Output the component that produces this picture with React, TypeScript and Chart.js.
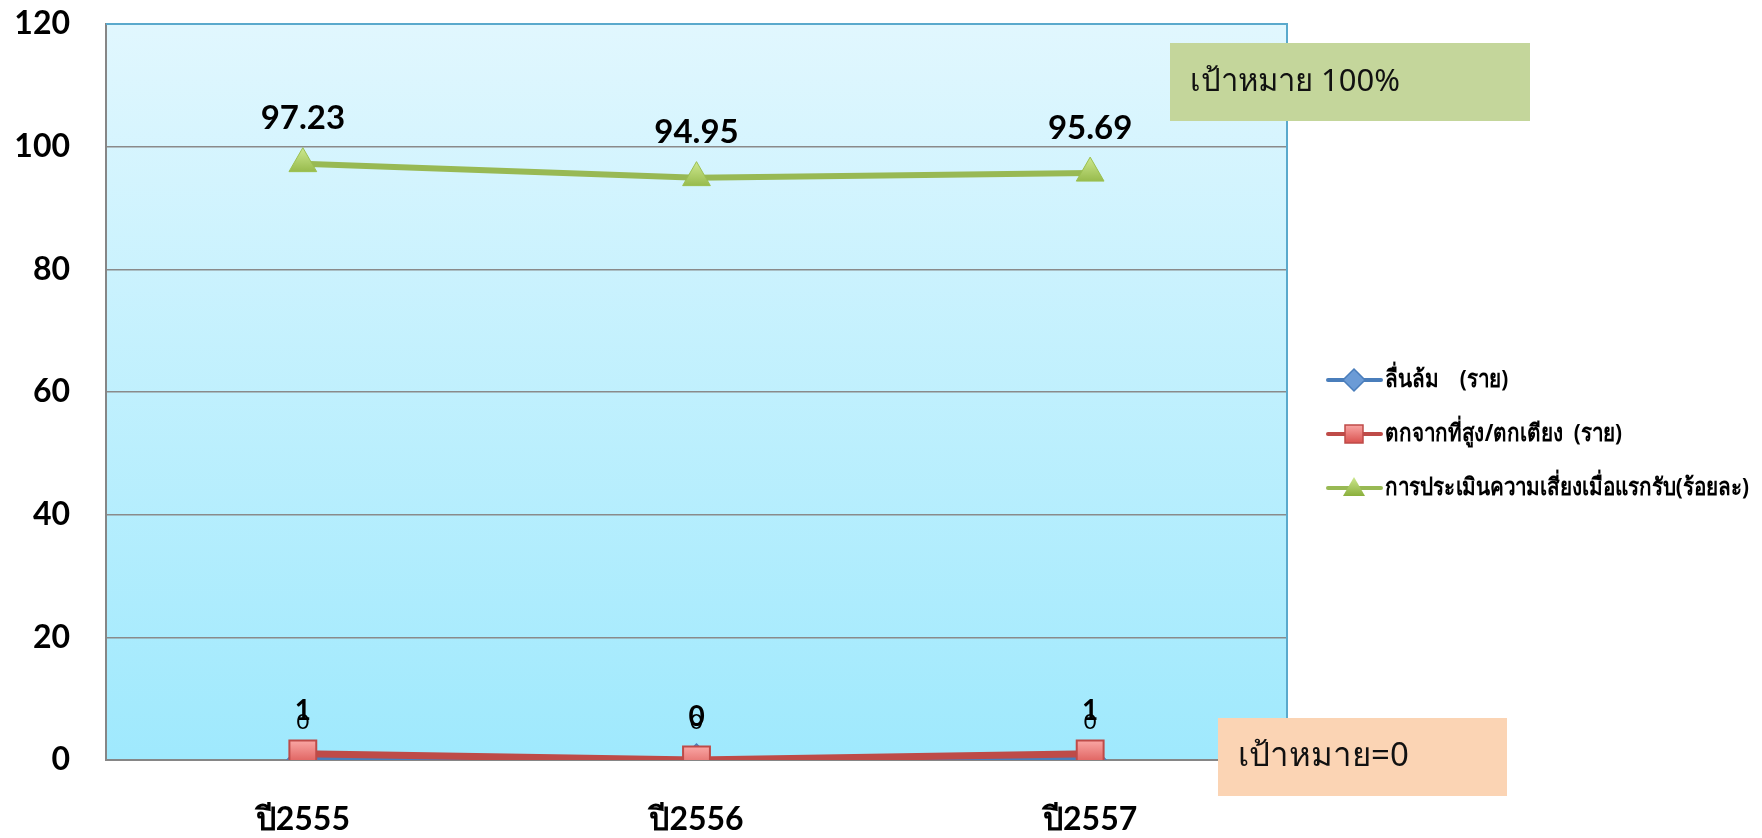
import React, { useEffect, useRef } from 'react';
import { Chart, registerables } from 'chart.js';

Chart.register(...registerables);

// ---------- data ----------
const categories = ['ปี2555', 'ปี2556', 'ปี2557'];
const seriesNames = [
  'ลื่นล้ม    (ราย)',
  'ตกจากที่สูง/ตกเตียง  (ราย)',
  'การประเมินความเสี่ยงเมื่อแรกรับ(ร้อยละ)',
];
const slipFall = [0, 0, 0];
const fallFromHeight = [1, 0, 1];
const riskAssessment = [97.23, 94.95, 95.69];
const yMin = 0;
const yMax = 120;
const yStep = 20;
const targetGreen = 'เป้าหมาย 100%';
const targetZero = 'เป้าหมาย=0';

// ---------- styles ----------
const BLUE = '#4a7ebb';
const RED = '#be4b48';
const GREEN = '#98b954';
const LATIN = 'Lato, "Noto Sans", sans-serif';
const THAI = '"Noto Sans", sans-serif';

const labelStyles = [
  { font: `normal 22px ${LATIN}`, offset: 38 },
  { font: `bold 28px ${LATIN}`, offset: 43 },
  { font: `bold 33px ${LATIN}`, offset: 45 },
];

const bgPlugin = {
  id: 'plotBg',
  beforeDraw(chart: any) {
    const { ctx, chartArea: a } = chart;
    const g = ctx.createLinearGradient(0, a.top, 0, a.bottom);
    g.addColorStop(0, '#e1f7fe');
    g.addColorStop(1, '#9fe9fd');
    ctx.save();
    ctx.fillStyle = g;
    ctx.fillRect(a.left, a.top, a.right - a.left, a.bottom - a.top);
    ctx.restore();
  },
  afterDraw(chart: any) {
    const { ctx, chartArea: a } = chart;
    ctx.save();
    ctx.strokeStyle = '#5aa9cc';
    ctx.lineWidth = 2;
    ctx.beginPath();
    ctx.moveTo(a.left, a.top);
    ctx.lineTo(a.right, a.top);
    ctx.lineTo(a.right, a.bottom);
    ctx.stroke();
    ctx.restore();
  },
};

function drawMarker(ctx: CanvasRenderingContext2D, kind: number, x: number, y: number) {
  ctx.save();
  if (kind === 0) {
    ctx.fillStyle = '#6b9bd6';
    ctx.strokeStyle = BLUE;
    ctx.lineWidth = 1.5;
    ctx.beginPath();
    ctx.moveTo(x, y - 11);
    ctx.lineTo(x + 11, y);
    ctx.lineTo(x, y + 11);
    ctx.lineTo(x - 11, y);
    ctx.closePath();
    ctx.fill();
    ctx.stroke();
  } else if (kind === 1) {
    const g = ctx.createLinearGradient(0, y - 9, 0, y + 9);
    g.addColorStop(0, '#f9a5a3');
    g.addColorStop(1, '#d9524f');
    ctx.fillStyle = g;
    ctx.strokeStyle = RED;
    ctx.lineWidth = 1.5;
    ctx.fillRect(x - 9, y - 9, 18, 18);
    ctx.strokeRect(x - 9, y - 9, 18, 18);
  } else {
    const g = ctx.createLinearGradient(0, y - 10, 0, y + 8);
    g.addColorStop(0, '#c9e58a');
    g.addColorStop(1, '#8aaf3c');
    ctx.fillStyle = g;
    ctx.beginPath();
    ctx.moveTo(x, y - 11);
    ctx.lineTo(x + 11, y + 8);
    ctx.lineTo(x - 11, y + 8);
    ctx.closePath();
    ctx.fill();
  }
  ctx.restore();
}

const legendPlugin = {
  id: 'customLegend',
  afterDraw(chart: any) {
    const { ctx } = chart;
    const ys = [380, 434, 488];
    const colors = [BLUE, RED, GREEN];
    const textX = 1385;
    const maxW = 364;
    const font = `bold 24px ${THAI}`;
    ctx.save();
    ctx.font = font;
    const widest = Math.max(...chart.data.datasets.map((d: any) => ctx.measureText(d.label).width));
    const sx = Math.min(1, maxW / widest);
    ctx.restore();
    chart.data.datasets.forEach((ds: any, i: number) => {
      const y = ys[i];
      ctx.save();
      ctx.strokeStyle = colors[i];
      ctx.lineWidth = 4;
      ctx.lineCap = 'round';
      ctx.beginPath();
      ctx.moveTo(1328, y);
      ctx.lineTo(1381, y);
      ctx.stroke();
      drawMarker(ctx, i, 1354, y);
      ctx.fillStyle = '#000';
      ctx.font = font;
      ctx.textBaseline = 'middle';
      ctx.textAlign = 'left';
      ctx.translate(textX, y);
      ctx.scale(sx, 1);
      ctx.fillText(ds.label, 0, 0);
      ctx.restore();
    });
  },
};

const labelsPlugin = {
  id: 'pointLabels',
  afterDatasetsDraw(chart: any) {
    const { ctx } = chart;
    chart.data.datasets.forEach((ds: any, i: number) => {
      const meta = chart.getDatasetMeta(i);
      const st = labelStyles[i];
      meta.data.forEach((el: any, j: number) => {
        ctx.save();
        ctx.fillStyle = '#000';
        ctx.font = st.font;
        ctx.textAlign = 'center';
        ctx.textBaseline = 'middle';
        ctx.fillText(String(ds.data[j]), el.x, el.y - st.offset);
        ctx.restore();
      });
    });
  },
};

const boxesPlugin = {
  id: 'targetBoxes',
  afterDraw(chart: any) {
    const { ctx } = chart;
    ctx.save();
    ctx.fillStyle = '#c4d69b';
    ctx.fillRect(1170, 43, 360, 78);
    ctx.fillStyle = '#111';
    ctx.font = `normal 31px ${THAI}`;
    ctx.textBaseline = 'middle';
    ctx.textAlign = 'left';
    ctx.fillText(targetGreen, 1190, 82);
    ctx.fillStyle = '#fbd4b4';
    ctx.fillRect(1218, 718, 289, 78);
    ctx.fillStyle = '#111';
    ctx.font = `normal 33px ${THAI}`;
    ctx.fillText(targetZero, 1238, 757);
    ctx.restore();
  },
};

function gradientFill(top: string, bottom: string, half: number, fallback: string) {
  return (c: any) => {
    const chart = c.chart;
    if (!chart.chartArea || c.parsed == null) return fallback;
    const y = chart.scales.y.getPixelForValue(c.parsed.y);
    const g = chart.ctx.createLinearGradient(0, y - half, 0, y + half);
    g.addColorStop(0, top);
    g.addColorStop(1, bottom);
    return g;
  };
}

export default function App() {
  const ref = useRef<HTMLCanvasElement | null>(null);
  useEffect(() => {
    if (!ref.current) return;
    const chart = new Chart(ref.current, {
      type: 'line',
      data: {
        labels: categories,
        datasets: [
          {
            label: seriesNames[0],
            data: slipFall,
            borderColor: BLUE,
            borderWidth: 6,
            pointStyle: 'rectRot',
            pointRadius: 16,
            pointBackgroundColor: '#5b8fd0',
            pointBorderColor: BLUE,
            pointBorderWidth: 1.5,
            order: 1,
          },
          {
            label: seriesNames[1],
            data: fallFromHeight,
            borderColor: RED,
            borderWidth: 7,
            pointStyle: 'rect',
            pointRadius: 19,
            pointBackgroundColor: gradientFill('#f9a5a3', '#d9524f', 13, '#e06666'),
            pointBorderColor: RED,
            pointBorderWidth: 2,
            order: 0,
          },
          {
            label: seriesNames[2],
            data: riskAssessment,
            borderColor: GREEN,
            borderWidth: 6,
            pointStyle: 'triangle',
            pointRadius: 16,
            pointBackgroundColor: gradientFill('#c9e58a', '#8aaf3c', 14, GREEN),
            pointBorderColor: '#9bc04f',
            pointBorderWidth: 1,
            order: 2,
          },
        ],
      },
      options: {
        animation: false,
        responsive: true,
        maintainAspectRatio: false,
        layout: { padding: { top: 24, right: 475, left: 0, bottom: 0 } },
        plugins: {
          legend: { display: false },
          tooltip: { enabled: false },
        },
        scales: {
          x: {
            offset: true,
            grid: { display: false, drawTicks: false },
            border: { display: true, color: '#868686', width: 2 },
            ticks: {
              color: '#000',
              padding: 40,
              font: { family: LATIN, size: 32, weight: 'bold' },
            },
            afterFit(s: any) {
              s.height = 78;
              s.paddingLeft = 0;
              s.paddingRight = 0;
            },
          },
          y: {
            min: yMin,
            max: yMax,
            ticks: {
              stepSize: yStep,
              color: '#000',
              padding: 36,
              font: { family: LATIN, size: 32, weight: 'bold' },
            },
            grid: { color: '#8a8a8a', lineWidth: 1.5, drawTicks: false },
            border: { display: true, color: '#868686', width: 2 },
            afterFit(s: any) {
              s.width = 106;
              s.paddingTop = 0;
              s.paddingBottom = 0;
            },
          },
        },
      },
      plugins: [bgPlugin, labelsPlugin, legendPlugin, boxesPlugin],
    });
    return () => chart.destroy();
  }, []);
  return (
    <div style={{ position: 'fixed', left: 0, top: 0, width: 1762, height: 838, background: '#fff' }}>
      <canvas ref={ref} />
    </div>
  );
}
